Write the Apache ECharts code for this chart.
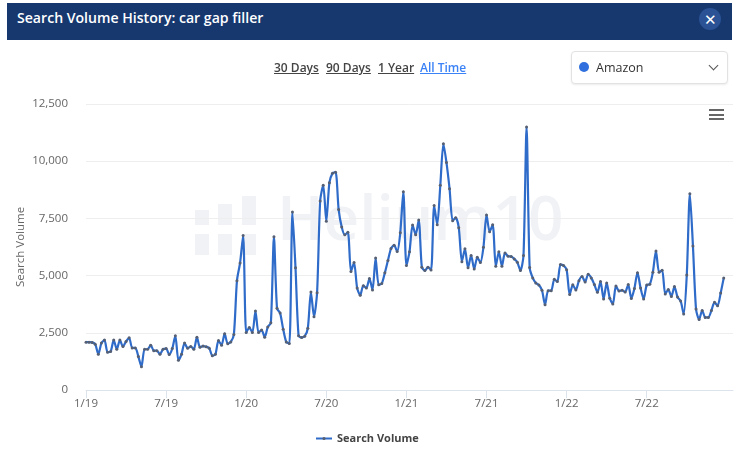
<!DOCTYPE html>
<html>
<head>
<meta charset="utf-8">
<script src="https://cdn.jsdelivr.net/npm/echarts@6/dist/echarts.min.js"></script>
<style>
html,body{margin:0;padding:0;background:#fff;width:740px;height:454px;overflow:hidden;font-family:"Open Sans","Noto Sans",sans-serif}
#chart{position:absolute;left:0;top:0;width:740px;height:454px}
.ui{position:absolute}
#bar{left:7px;top:3px;width:725px;height:37px;background:#16386f}
#ttl{left:17px;top:8px;color:#fff;font-weight:600;font-size:14.1px;line-height:20px;white-space:nowrap}
#close{left:699px;top:8px;width:22px;height:22px;border-radius:50%;background:#2a5294;color:#fff;font-size:15px;line-height:22px;text-align:center}
.lnk{top:60px;font-size:12px;line-height:16px;color:#444;text-decoration:underline;font-weight:600;white-space:nowrap}
#sel{left:571px;top:51px;width:155px;height:31px;border:1px solid #e2e2e2;border-radius:4px;box-shadow:0 1px 2px rgba(0,0,0,.08);background:#fff}
#dot{left:579px;top:62px;width:10px;height:10px;border-radius:50%;background:#2f6fde}
#amz{left:596px;top:59px;font-size:12.5px;line-height:17px;color:#333}
#chev{left:710px;top:62px;width:6px;height:6px;border-right:1.2px solid #555;border-bottom:1.2px solid #555;transform:rotate(45deg)}
.hb{left:709px;width:15px;height:2.4px;background:#666}
</style>
</head>
<body>
<div id="chart"></div>
<div class="ui" id="bar"></div>
<div class="ui" id="ttl">Search Volume History: car gap filler</div>
<div class="ui" id="close">✕</div>
<div class="ui lnk" style="left:274px">30 Days</div>
<div class="ui lnk" style="left:326px">90 Days</div>
<div class="ui lnk" style="left:378px">1 Year</div>
<div class="ui lnk" style="left:420px;color:#3b82f6">All Time</div>
<div class="ui" id="sel"></div>
<div class="ui" id="dot"></div>
<div class="ui" id="amz">Amazon</div>
<div class="ui" id="chev"></div>
<div class="ui hb" style="top:109px"></div>
<div class="ui hb" style="top:113.5px"></div>
<div class="ui hb" style="top:118px"></div>
<script>
const seriesName = 'Search Volume';
const tickLabels = ['1/19','7/19','1/20','7/20','1/21','7/21','1/22','7/22'];
const yTicks = [0,2500,5000,7500,10000,12500];
const volume2019 = [2090,2090,2080,2000,1560,2050,2180,1650,1680,2180,1780,2180,1900,2120,2280,1840,1840,1460,1020,1780,1780,1960,1720,1720,1560,1780,1810,1550,1810,2370,1300,1560,2050,1830,1900,1780,2310,1870,1920,1890,1830,1500,1560,2160,1960,2460,2020,2100,2430,4780,5550,6750];
const volume2020 = [2510,2730,2510,3450,2510,2620,2310,2750,2940,6700,3570,3360,2660,2100,2030,7780,5340,2370,2300,2350,2700,4280,3200,4250,8260,8950,7380,9060,9470,9520,7890,7120,6780,6890,5180,5570,4460,4140,4560,4460,4870,4370,5770,4600,4650,5120,5660,6180,6330,6050,6870,8670];
const volume2021 = [5440,6040,7210,6780,7430,5370,5220,5370,5250,8060,7220,8950,10760,9940,8800,7400,7530,7090,5610,6170,5340,5880,5290,5800,5570,6240,7650,6920,7220,5410,6040,5410,5990,5850,5830,5730,5580,5220,5880,11500,5350,4900,4680,4590,4360,3730,4340,4340,4840,4740,5480,5440];
const volume2022 = [5260,4170,4600,4370,4780,4960,4720,5060,4900,4610,4270,4740,3980,4680,4010,3760,4550,4330,4360,4280,4610,4000,4440,5130,4460,3980,4590,4620,5150,6080,5150,5230,4200,4390,4090,4520,4060,3890,3320,5030,8580,6290,3540,3080,3480,3170,3170,3480,3830,3680,4240,4900];
const values = [...volume2019,...volume2020,...volume2021,...volume2022];
const categories = [];
for (let i = 0; i < values.length + 3; i++) categories.push(i % 26 === 0 ? (tickLabels[i / 26] || '') : '');

const chart = echarts.init(document.getElementById('chart'));
const fam = '"Open Sans","Noto Sans",sans-serif';
const wm = '#f0f2f6';
const barRect = (x,y,w,h) => ({type:'rect',silent:true,z:0,shape:{x,y,width:w,height:h},style:{fill:wm}});
chart.setOption({
  animation:false,
  backgroundColor:'#fff',
  graphic:[
    barRect(195,234,14,21),barRect(218,234,14,21),barRect(242,234,14,21),
    barRect(195,210,14,15),barRect(218,204,14,21),barRect(242,196,14,29),
    {type:'text',silent:true,z:0,left:277,top:191,style:{text:'Helium10',font:'600 62px '+fam,fill:wm}}
  ],
  grid:{left:86,right:7,top:104,bottom:64},
  legend:{
    bottom:5,left:310,itemWidth:16,itemHeight:4,itemGap:5,
    data:[seriesName],
    textStyle:{color:'#444',fontWeight:'bold',fontSize:11,fontFamily:fam}
  },
  xAxis:{
    type:'category',data:categories,boundaryGap:false,
    axisLine:{lineStyle:{color:'#dde3ec'}},
    axisTick:{alignWithLabel:true,interval:(i)=>i%26===0,length:8,lineStyle:{color:'#dde3ec'}},
    axisLabel:{interval:(i)=>i%26===0,color:'#666',fontSize:11.5,fontFamily:fam,margin:8,showMaxLabel:false},
    splitLine:{show:false}
  },
  yAxis:{
    type:'value',min:0,max:yTicks[yTicks.length-1],interval:2500,
    name:'Search Volume',nameLocation:'middle',nameGap:59,nameRotate:90,nameMoveOverlap:false,
    nameTextStyle:{color:'#666',fontSize:11.5,fontFamily:fam},
    axisLine:{show:false},axisTick:{show:false},
    axisLabel:{color:'#666',fontSize:11.5,fontFamily:fam,margin:18,formatter:(v)=>v.toLocaleString('en-US')},
    splitLine:{lineStyle:{color:'#eeeeee'}}
  },
  series:[{
    name:seriesName,type:'line',data:values,smooth:0.25,
    symbol:'circle',symbolSize:3,showAllSymbol:true,showSymbol:true,
    lineStyle:{color:'#2f6bc9',width:2.2},
    itemStyle:{color:'#566072'},
    z:3
  }]
});
</script>
</body>
</html>
